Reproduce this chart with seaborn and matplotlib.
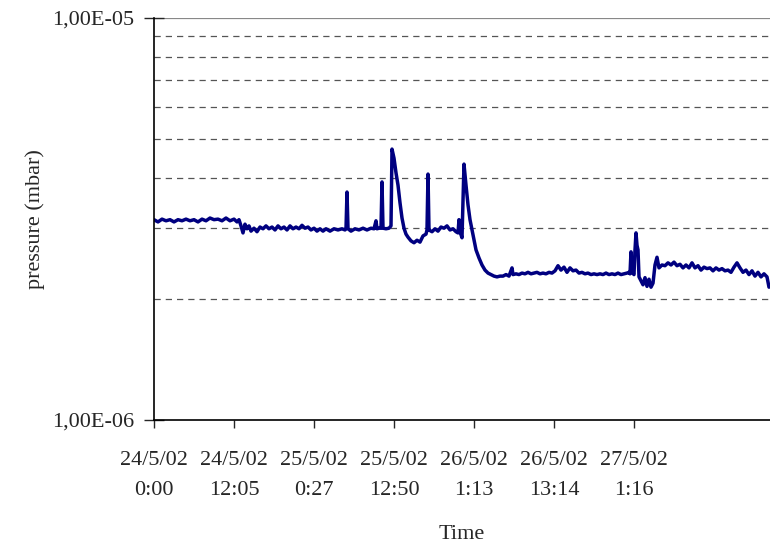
import matplotlib
matplotlib.use("Agg")
import matplotlib.pyplot as plt
import seaborn as sns
import numpy as np
import pandas as pd
from matplotlib.ticker import FixedLocator, NullFormatter

# ---- data ----
sample = [0, 4, 8, 12, 16, 20, 24, 28, 32, 36, 40, 44, 48, 52, 56, 60, 64, 68, 72, 76,
          80, 83, 85, 87, 89, 91, 93, 95, 97, 100, 103, 106, 109, 112, 115, 118, 121, 124,
          127, 130, 133, 136, 139, 142, 145, 148, 151, 154, 157, 160, 163, 166, 169, 172,
          176, 180, 184, 188, 191, 192, 193, 194, 197, 201, 205, 209, 213, 217, 220, 222,
          223, 225, 227, 228, 229, 232, 235, 237, 238, 240, 242, 244, 246, 248, 250, 252,
          254, 257, 260, 263, 266, 269, 272, 273, 274, 275, 278, 281, 284, 287, 290, 293,
          296, 299, 302, 304, 305, 306, 308, 309, 310, 312, 314, 316, 319, 322, 325, 328,
          331, 334, 337, 340, 343, 346, 349, 352, 355, 358, 359, 362, 365, 368, 371, 374,
          377, 380, 383, 386, 389, 392, 395, 398, 401, 404, 407, 410, 413, 416, 419, 422,
          425, 428, 431, 434, 437, 440, 443, 446, 449, 452, 455, 458, 461, 464, 467, 470,
          473, 475, 476, 477, 478, 480, 481, 482, 483, 484, 485, 487, 489, 491, 493, 495,
          497, 499, 501, 503, 505, 508, 511, 514, 517, 520, 523, 526, 529, 532, 535, 538,
          541, 544, 547, 550, 553, 556, 559, 562, 565, 568, 571, 574, 577, 580, 583, 586,
          589, 592, 595, 598, 601, 604, 607, 610, 613, 615]

pressure_e6 = [3.15, 3.11, 3.16, 3.13, 3.15, 3.11, 3.15, 3.13, 3.16, 3.13, 3.15, 3.11, 3.16,
               3.13, 3.18, 3.15, 3.16, 3.13, 3.18, 3.13, 3.16, 3.11, 3.15, 3.04, 2.92, 3.07,
               2.99, 3.04, 2.95, 3.00, 2.94, 3.02, 2.99, 3.04, 2.99, 3.02, 2.97, 3.04, 2.99,
               3.02, 2.97, 3.04, 2.99, 3.02, 2.99, 3.05, 3.00, 3.02, 2.97, 3.00, 2.95, 2.99,
               2.95, 2.99, 2.95, 2.99, 2.97, 2.99, 2.97, 2.99, 3.69, 2.99, 2.95, 2.99, 2.97,
               3.00, 2.97, 3.00, 2.99, 3.13, 2.99, 3.00, 3.00, 3.91, 3.00, 2.99, 3.00, 3.04,
               4.72, 4.48, 4.12, 3.84, 3.47, 3.18, 3.00, 2.90, 2.85, 2.79, 2.76, 2.80, 2.77,
               2.87, 2.90, 2.97, 4.09, 2.97, 2.94, 2.99, 2.95, 3.02, 3.00, 3.04, 2.97, 2.99,
               2.94, 2.92, 3.15, 2.94, 2.84, 3.53, 4.33, 3.84, 3.43, 3.15, 2.89, 2.65, 2.53,
               2.43, 2.36, 2.32, 2.30, 2.28, 2.27, 2.28, 2.28, 2.30, 2.28, 2.39, 2.30, 2.31,
               2.30, 2.32, 2.31, 2.33, 2.31, 2.32, 2.33, 2.31, 2.32, 2.31, 2.33, 2.32, 2.35,
               2.42, 2.36, 2.40, 2.33, 2.39, 2.35, 2.36, 2.32, 2.33, 2.31, 2.32, 2.30, 2.31,
               2.30, 2.31, 2.30, 2.32, 2.30, 2.31, 2.30, 2.32, 2.30, 2.31, 2.32, 2.33, 2.31,
               2.62, 2.33, 2.30, 2.65, 2.92, 2.72, 2.65, 2.27, 2.22, 2.17, 2.26, 2.15, 2.24,
               2.14, 2.19, 2.43, 2.54, 2.39, 2.43, 2.42, 2.46, 2.43, 2.47, 2.42, 2.44, 2.39,
               2.43, 2.39, 2.46, 2.39, 2.42, 2.36, 2.40, 2.38, 2.39, 2.35, 2.39, 2.36, 2.38,
               2.35, 2.36, 2.33, 2.40, 2.46, 2.39, 2.33, 2.36, 2.30, 2.35, 2.28, 2.33, 2.27,
               2.31, 2.27, 2.14]

tick_samples = [0, 80, 160, 240, 320, 400, 480]
tick_labels = ["24/5/02\n0:00", "24/5/02\n12:05", "25/5/02\n0:27", "25/5/02\n12:50",
               "26/5/02\n1:13", "26/5/02\n13:14", "27/5/02\n1:16"]

df = pd.DataFrame({"sample": sample, "pressure": np.array(pressure_e6) * 1e-6})

sns.set_style("white")
plt.rcParams["font.family"] = ["Liberation Serif", "DejaVu Serif"]

FS = 16

fig = plt.figure(figsize=(7.7, 5.46), dpi=100)
ax = fig.add_axes([154 / 770, 1 - 420 / 546, 616 / 770, 402 / 546])

sns.lineplot(data=df, x="sample", y="pressure", ax=ax, color="#000080",
             linewidth=2.5, estimator=None, sort=False)

ax.set_yscale("log")
ax.set_ylim(1e-6, 1e-5)
ax.set_xlim(0, 616)

ax.yaxis.set_major_locator(FixedLocator([1e-6, 1e-5]))
ax.set_yticklabels(["1,00E-06", "1,00E-05"])
ax.yaxis.set_minor_locator(FixedLocator([k * 1e-6 for k in range(2, 10)]))
ax.yaxis.set_minor_formatter(NullFormatter())
ax.tick_params(axis="y", which="minor", length=0)
ax.grid(True, axis="y", which="minor", color="#555555", linestyle=(0, (5, 4)), linewidth=0.9)
ax.axhline(1e-5, color="#888888", linewidth=1.6, zorder=0.5)

ax.set_xticks(tick_samples)
ax.set_xticklabels(tick_labels)

for side in ["top", "right"]:
    ax.spines[side].set_visible(False)
for side in ["left", "bottom"]:
    ax.spines[side].set_color("black")
    ax.spines[side].set_linewidth(1.2)

ax.tick_params(axis="y", which="major", direction="inout", length=14, width=1.0,
               labelsize=FS, pad=7, left=True)
ax.tick_params(axis="x", which="major", direction="out", length=6, width=1.0,
               labelsize=FS, pad=16, bottom=True)
for lab in ax.get_xticklabels():
    lab.set_linespacing(1.85)

ax.set_xlabel("Time", fontsize=FS, labelpad=18)
ax.set_ylabel("pressure (mbar)", fontsize=FS, labelpad=5)

fig.savefig("out.png", dpi=100)
